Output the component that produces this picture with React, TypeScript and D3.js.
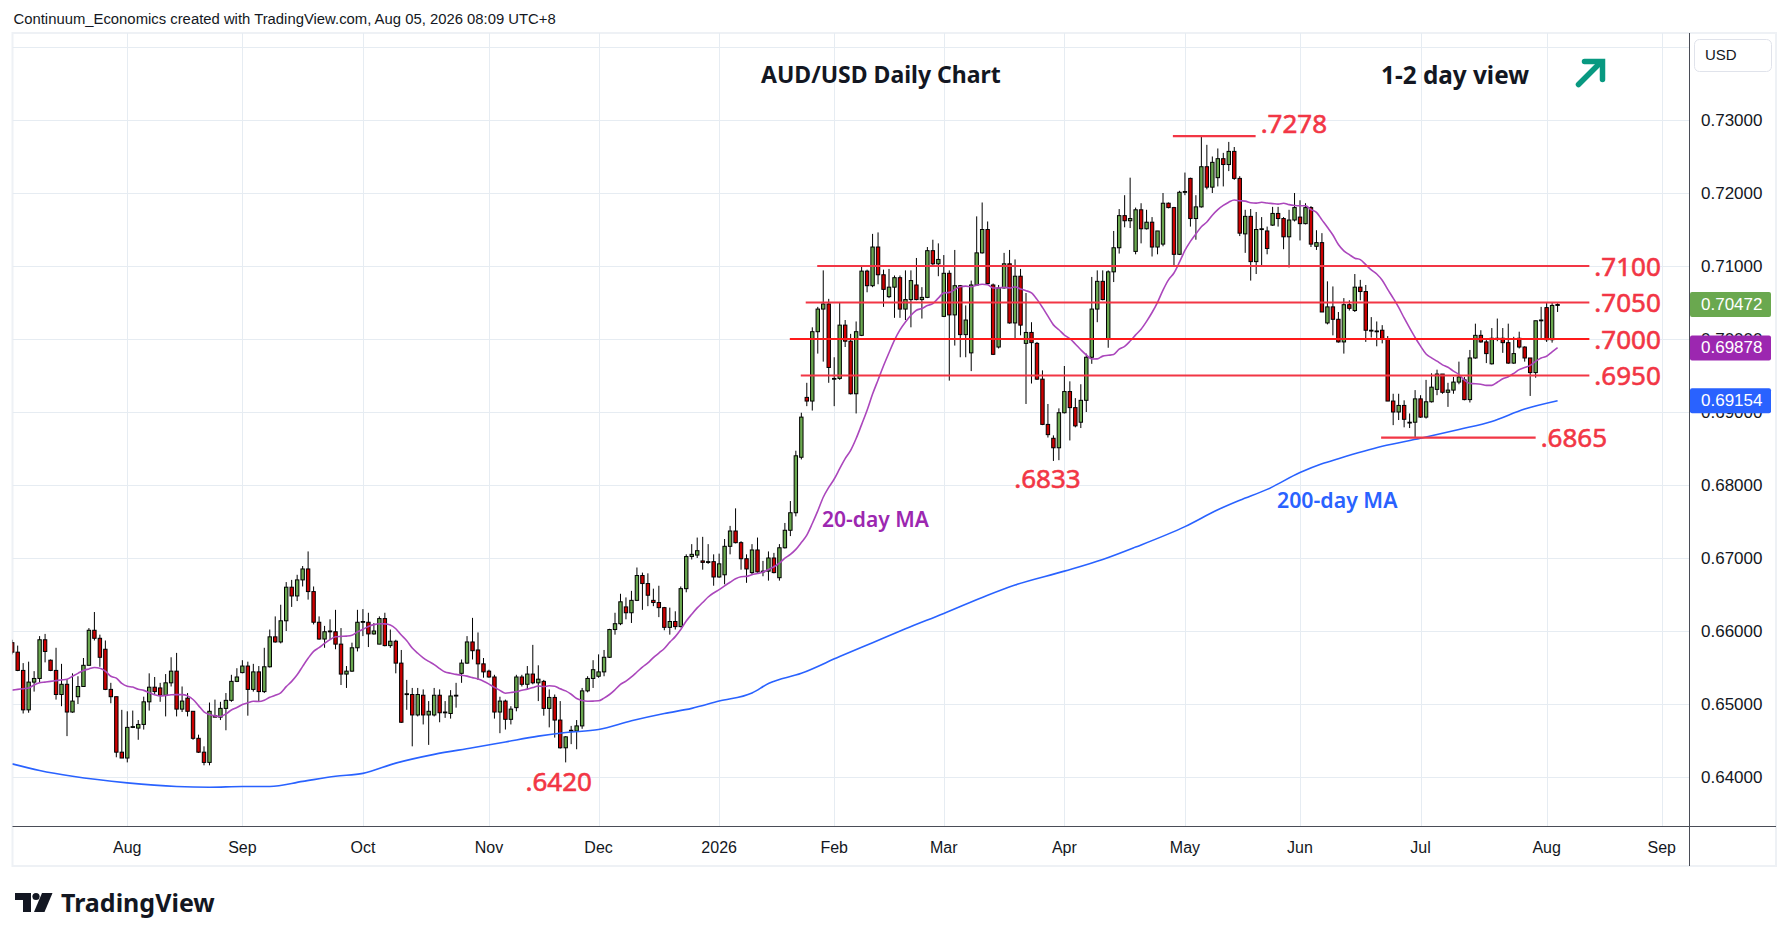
import React from 'react';
import * as d3 from 'd3';

const W = 1789;
const H = 941;

// trading calendar (weekdays, FX closed on these two days)
const firstDay = '2025-07-03';
const lastAxisDay = '2026-09-04';
const holidays = ['2025-12-25', '2026-01-01'];

const opens = [
  0.6584, 0.6571, 0.6546, 0.6492, 0.6530, 0.6535, 0.6588, 0.6560, 0.6546, 0.6513,
  0.6527, 0.6489, 0.6510, 0.6524, 0.6553, 0.6601, 0.6590, 0.6575, 0.6520, 0.6510,
  0.6434, 0.6426, 0.6468, 0.6467, 0.6472, 0.6503, 0.6523, 0.6522, 0.6512, 0.6529,
  0.6545, 0.6493, 0.6508, 0.6490, 0.6453, 0.6434, 0.6420, 0.6484, 0.6482, 0.6494,
  0.6505, 0.6531, 0.6543, 0.6552, 0.6520, 0.6544, 0.6517, 0.6551, 0.6592, 0.6585,
  0.6614, 0.6660, 0.6648, 0.6670, 0.6685, 0.6654, 0.6612, 0.6589, 0.6599, 0.6599,
  0.6582, 0.6541, 0.6545, 0.6577, 0.6612, 0.6612, 0.6596, 0.6582, 0.6617, 0.6580,
  0.6586, 0.6556, 0.6513, 0.6513, 0.6485, 0.6512, 0.6485, 0.6485, 0.6512, 0.6488,
  0.6487, 0.6511, 0.6542, 0.6556, 0.6585, 0.6574, 0.6555, 0.6545, 0.6537, 0.6489,
  0.6504, 0.6479, 0.6495, 0.6537, 0.6527, 0.6541, 0.6529, 0.6531, 0.6494, 0.6509,
  0.6478, 0.6440, 0.6463, 0.6463, 0.6470, 0.6518, 0.6535, 0.6538, 0.6544, 0.6564,
  0.6602, 0.6610, 0.6633, 0.6625, 0.6642, 0.6676, 0.6665, 0.6642, 0.6639, 0.6632,
  0.6605, 0.6613, 0.6606, 0.6658, 0.6702, 0.6704, 0.6696, 0.6694, 0.6695, 0.6674,
  0.6677, 0.6716, 0.6737, 0.6721, 0.6699, 0.6680, 0.6711, 0.6681, 0.6682, 0.6700,
  0.6673, 0.6714, 0.6738, 0.6762, 0.6838, 0.6920, 0.6915, 0.7010, 0.7041, 0.7048,
  0.6945, 0.6946, 0.7019, 0.6997, 0.6925, 0.7005, 0.7093, 0.7073, 0.7126, 0.7088,
  0.7058, 0.7071, 0.7084, 0.7041, 0.7054, 0.7074, 0.7054, 0.7057, 0.7121, 0.7103,
  0.7031, 0.7090, 0.7033, 0.7073, 0.7006, 0.6981, 0.7074, 0.7118, 0.7150, 0.7074,
  0.6989, 0.7070, 0.7103, 0.7022, 0.7086, 0.6994, 0.7009, 0.6994, 0.6945, 0.6883,
  0.6864, 0.6851, 0.6899, 0.6928, 0.6906, 0.6886, 0.6916, 0.6975, 0.7041, 0.7079,
  0.7000, 0.7092, 0.7125, 0.7169, 0.7162, 0.7120, 0.7177, 0.7151, 0.7160, 0.7126,
  0.7130, 0.7186, 0.7180, 0.7116, 0.7201, 0.7220, 0.7165, 0.7181, 0.7236, 0.7208,
  0.7221, 0.7247, 0.7239, 0.7257, 0.7220, 0.7144, 0.7168, 0.7106, 0.7150, 0.7148,
  0.7156, 0.7172, 0.7165, 0.7140, 0.7163, 0.7167, 0.7158, 0.7180, 0.7127, 0.7132,
  0.7022, 0.7044, 0.7027, 0.6996, 0.7047, 0.7039, 0.7071, 0.7065, 0.7012, 0.7011,
  0.7012, 0.7000, 0.6915, 0.6900, 0.6909, 0.6886, 0.6886, 0.6918, 0.6893, 0.6914,
  0.6931, 0.6952, 0.6927, 0.6930, 0.6941, 0.6944, 0.6917, 0.6974, 0.7005, 0.6996,
  0.6966, 0.7001, 0.7001, 0.6995, 0.6967, 0.7001, 0.6989, 0.6974, 0.6954, 0.7025,
  0.7043, 0.6999, 0.7046,
];

const highs = [
  0.6588, 0.6580, 0.6556, 0.6558, 0.6545, 0.6593, 0.6596, 0.6561, 0.6577, 0.6555,
  0.6534, 0.6542, 0.6538, 0.6563, 0.6604, 0.6626, 0.6595, 0.6587, 0.6529, 0.6510,
  0.6492, 0.6490, 0.6491, 0.6478, 0.6510, 0.6542, 0.6537, 0.6529, 0.6541, 0.6564,
  0.6570, 0.6524, 0.6515, 0.6490, 0.6458, 0.6442, 0.6502, 0.6506, 0.6503, 0.6515,
  0.6540, 0.6549, 0.6560, 0.6558, 0.6555, 0.6552, 0.6577, 0.6602, 0.6620, 0.6636,
  0.6667, 0.6670, 0.6677, 0.6689, 0.6709, 0.6661, 0.6620, 0.6607, 0.6616, 0.6629,
  0.6604, 0.6552, 0.6584, 0.6629, 0.6630, 0.6625, 0.6611, 0.6620, 0.6625, 0.6602,
  0.6588, 0.6574, 0.6533, 0.6522, 0.6522, 0.6520, 0.6504, 0.6522, 0.6520, 0.6504,
  0.6519, 0.6529, 0.6561, 0.6593, 0.6618, 0.6598, 0.6563, 0.6547, 0.6540, 0.6510,
  0.6506, 0.6497, 0.6540, 0.6540, 0.6552, 0.6581, 0.6553, 0.6533, 0.6520, 0.6513,
  0.6504, 0.6456, 0.6470, 0.6478, 0.6522, 0.6538, 0.6560, 0.6568, 0.6574, 0.6603,
  0.6625, 0.6651, 0.6646, 0.6655, 0.6687, 0.6680, 0.6679, 0.6658, 0.6662, 0.6633,
  0.6632, 0.6627, 0.6661, 0.6705, 0.6719, 0.6728, 0.6729, 0.6719, 0.6705, 0.6706,
  0.6726, 0.6744, 0.6768, 0.6723, 0.6705, 0.6719, 0.6728, 0.6696, 0.6709, 0.6707,
  0.6719, 0.6748, 0.6778, 0.6847, 0.6899, 0.6940, 0.7016, 0.7044, 0.7094, 0.7055,
  0.6975, 0.7050, 0.7026, 0.7007, 0.7024, 0.7099, 0.7095, 0.7144, 0.7146, 0.7095,
  0.7096, 0.7087, 0.7087, 0.7094, 0.7094, 0.7111, 0.7071, 0.7126, 0.7136, 0.7131,
  0.7115, 0.7094, 0.7122, 0.7074, 0.7046, 0.7080, 0.7168, 0.7187, 0.7161, 0.7076,
  0.7074, 0.7118, 0.7122, 0.7109, 0.7096, 0.7063, 0.7023, 0.6996, 0.6957, 0.6911,
  0.6868, 0.6905, 0.6963, 0.6942, 0.6919, 0.6938, 0.6980, 0.7085, 0.7094, 0.7094,
  0.7094, 0.7148, 0.7178, 0.7197, 0.7221, 0.7180, 0.7186, 0.7177, 0.7167, 0.7148,
  0.7200, 0.7187, 0.7181, 0.7203, 0.7228, 0.7221, 0.7197, 0.7278, 0.7266, 0.7250,
  0.7261, 0.7255, 0.7270, 0.7263, 0.7223, 0.7177, 0.7178, 0.7174, 0.7167, 0.7154,
  0.7181, 0.7181, 0.7167, 0.7177, 0.7200, 0.7190, 0.7186, 0.7182, 0.7149, 0.7145,
  0.7079, 0.7072, 0.7037, 0.7056, 0.7053, 0.7089, 0.7081, 0.7074, 0.7030, 0.7024,
  0.7019, 0.7004, 0.6925, 0.6925, 0.6916, 0.6898, 0.6930, 0.6923, 0.6944, 0.6953,
  0.6958, 0.6952, 0.6940, 0.6948, 0.6969, 0.6948, 0.6985, 0.7021, 0.7012, 0.7001,
  0.7015, 0.7028, 0.7015, 0.7021, 0.7003, 0.7010, 0.6990, 0.6974, 0.7025, 0.7044,
  0.7050, 0.7050, 0.7049,
];

const lows = [
  0.6568, 0.6545, 0.6487, 0.6488, 0.6517, 0.6529, 0.6557, 0.6545, 0.6506, 0.6497,
  0.6456, 0.6488, 0.6500, 0.6524, 0.6553, 0.6587, 0.6551, 0.6519, 0.6501, 0.6427,
  0.6426, 0.6420, 0.6467, 0.6451, 0.6465, 0.6491, 0.6513, 0.6503, 0.6483, 0.6524,
  0.6483, 0.6489, 0.6483, 0.6451, 0.6433, 0.6416, 0.6416, 0.6482, 0.6478, 0.6464,
  0.6503, 0.6530, 0.6542, 0.6484, 0.6517, 0.6504, 0.6515, 0.6550, 0.6584, 0.6583,
  0.6600, 0.6633, 0.6641, 0.6661, 0.6643, 0.6609, 0.6588, 0.6577, 0.6588, 0.6575,
  0.6526, 0.6522, 0.6544, 0.6572, 0.6593, 0.6578, 0.6595, 0.6582, 0.6579, 0.6577,
  0.6542, 0.6474, 0.6492, 0.6442, 0.6483, 0.6472, 0.6444, 0.6483, 0.6475, 0.6481,
  0.6480, 0.6495, 0.6529, 0.6555, 0.6561, 0.6533, 0.6536, 0.6536, 0.6480, 0.6460,
  0.6465, 0.6472, 0.6490, 0.6524, 0.6520, 0.6527, 0.6504, 0.6484, 0.6468, 0.6454,
  0.6439, 0.6420, 0.6445, 0.6438, 0.6466, 0.6516, 0.6522, 0.6536, 0.6538, 0.6563,
  0.6595, 0.6608, 0.6616, 0.6611, 0.6641, 0.6629, 0.6634, 0.6634, 0.6619, 0.6601,
  0.6595, 0.6602, 0.6605, 0.6653, 0.6698, 0.6700, 0.6684, 0.6692, 0.6662, 0.6673,
  0.6664, 0.6705, 0.6720, 0.6684, 0.6666, 0.6677, 0.6680, 0.6675, 0.6669, 0.6679,
  0.6669, 0.6713, 0.6730, 0.6757, 0.6835, 0.6908, 0.6902, 0.6980, 0.6969, 0.6940,
  0.6908, 0.6944, 0.6989, 0.6924, 0.6898, 0.7004, 0.7064, 0.7071, 0.7075, 0.7044,
  0.7056, 0.7029, 0.7029, 0.7026, 0.7016, 0.7053, 0.7028, 0.7056, 0.7101, 0.7086,
  0.7030, 0.6943, 0.6991, 0.6975, 0.6975, 0.6956, 0.7073, 0.7117, 0.7074, 0.6978,
  0.6987, 0.7069, 0.7021, 0.7000, 0.7005, 0.6911, 0.6939, 0.6944, 0.6882, 0.6865,
  0.6833, 0.6834, 0.6898, 0.6861, 0.6879, 0.6878, 0.6900, 0.6966, 0.7023, 0.7053,
  0.6988, 0.7078, 0.7117, 0.7153, 0.7152, 0.7116, 0.7131, 0.7150, 0.7113, 0.7116,
  0.7127, 0.7179, 0.7101, 0.7115, 0.7197, 0.7154, 0.7136, 0.7180, 0.7205, 0.7200,
  0.7209, 0.7209, 0.7230, 0.7218, 0.7141, 0.7118, 0.7080, 0.7089, 0.7101, 0.7116,
  0.7155, 0.7154, 0.7123, 0.7098, 0.7161, 0.7135, 0.7157, 0.7126, 0.7122, 0.7037,
  0.7020, 0.7005, 0.6995, 0.6980, 0.7039, 0.7037, 0.7053, 0.6996, 0.7002, 0.6990,
  0.6994, 0.6915, 0.6882, 0.6889, 0.6879, 0.6878, 0.6865, 0.6892, 0.6891, 0.6913,
  0.6923, 0.6925, 0.6907, 0.6925, 0.6938, 0.6916, 0.6913, 0.6973, 0.6995, 0.6967,
  0.6965, 0.6997, 0.6981, 0.6966, 0.6966, 0.6987, 0.6969, 0.6922, 0.6947, 0.7000,
  0.6996, 0.6995, 0.7037,
];

const closes = [
  0.6571, 0.6546, 0.6492, 0.6530, 0.6535, 0.6588, 0.6572, 0.6546, 0.6513, 0.6527,
  0.6489, 0.6504, 0.6524, 0.6553, 0.6601, 0.6590, 0.6564, 0.6520, 0.6510, 0.6434,
  0.6426, 0.6468, 0.6469, 0.6472, 0.6503, 0.6523, 0.6517, 0.6512, 0.6529, 0.6545,
  0.6493, 0.6504, 0.6490, 0.6453, 0.6434, 0.6420, 0.6490, 0.6482, 0.6494, 0.6505,
  0.6531, 0.6537, 0.6552, 0.6520, 0.6544, 0.6517, 0.6551, 0.6592, 0.6585, 0.6614,
  0.6660, 0.6648, 0.6670, 0.6685, 0.6654, 0.6612, 0.6589, 0.6599, 0.6600, 0.6582,
  0.6541, 0.6545, 0.6577, 0.6612, 0.6613, 0.6596, 0.6600, 0.6617, 0.6580, 0.6586,
  0.6556, 0.6475, 0.6514, 0.6485, 0.6513, 0.6485, 0.6490, 0.6512, 0.6488, 0.6489,
  0.6511, 0.6512, 0.6556, 0.6585, 0.6573, 0.6555, 0.6544, 0.6537, 0.6489, 0.6504,
  0.6479, 0.6493, 0.6537, 0.6527, 0.6541, 0.6529, 0.6534, 0.6494, 0.6509, 0.6478,
  0.6440, 0.6455, 0.6464, 0.6470, 0.6518, 0.6535, 0.6547, 0.6544, 0.6564, 0.6602,
  0.6610, 0.6640, 0.6625, 0.6642, 0.6676, 0.6665, 0.6649, 0.6639, 0.6632, 0.6605,
  0.6613, 0.6606, 0.6658, 0.6702, 0.6705, 0.6710, 0.6694, 0.6695, 0.6674, 0.6692,
  0.6716, 0.6737, 0.6721, 0.6699, 0.6685, 0.6711, 0.6681, 0.6682, 0.6700, 0.6680,
  0.6714, 0.6738, 0.6762, 0.6840, 0.6893, 0.6915, 0.7010, 0.7041, 0.7048, 0.6961,
  0.6946, 0.7019, 0.6997, 0.6925, 0.7010, 0.7093, 0.7073, 0.7126, 0.7088, 0.7068,
  0.7071, 0.7084, 0.7041, 0.7054, 0.7080, 0.7054, 0.7057, 0.7121, 0.7103, 0.7109,
  0.7090, 0.7033, 0.7073, 0.7006, 0.7026, 0.7074, 0.7118, 0.7150, 0.7076, 0.6979,
  0.7070, 0.7103, 0.7022, 0.7086, 0.7019, 0.7009, 0.6995, 0.6945, 0.6883, 0.6869,
  0.6851, 0.6899, 0.6928, 0.6906, 0.6881, 0.6916, 0.6975, 0.7041, 0.7079, 0.7054,
  0.7092, 0.7125, 0.7169, 0.7162, 0.7165, 0.7177, 0.7151, 0.7160, 0.7126, 0.7148,
  0.7186, 0.7180, 0.7116, 0.7201, 0.7202, 0.7165, 0.7181, 0.7236, 0.7208, 0.7242,
  0.7247, 0.7239, 0.7257, 0.7220, 0.7145, 0.7168, 0.7106, 0.7150, 0.7151, 0.7124,
  0.7172, 0.7165, 0.7140, 0.7163, 0.7180, 0.7158, 0.7180, 0.7130, 0.7132, 0.7037,
  0.7044, 0.7027, 0.6996, 0.7047, 0.7042, 0.7071, 0.7065, 0.7012, 0.7011, 0.7010,
  0.7000, 0.6915, 0.6900, 0.6909, 0.6890, 0.6886, 0.6918, 0.6893, 0.6914, 0.6934,
  0.6952, 0.6927, 0.6930, 0.6941, 0.6948, 0.6917, 0.6974, 0.7005, 0.6996, 0.6980,
  0.7001, 0.7000, 0.6995, 0.6967, 0.6980, 0.6989, 0.6974, 0.6954, 0.7025, 0.7026,
  0.6999, 0.7046, 0.70472,
];

// 20-day MA before a full window of visible closes exists
const ma20Lead = [
  0.6519, 0.6520, 0.6521, 0.6522, 0.6526, 0.6529, 0.6530, 0.6531, 0.6532, 0.6533,
  0.6534, 0.6538, 0.6542, 0.6546, 0.6548, 0.6550, 0.6549, 0.6545, 0.6538,
];

// 200-day MA, read at these bar numbers
const ma200Bars = [
  0, 5, 11, 21, 30, 36, 42, 47, 53, 59, 64, 70, 77, 84, 90, 96, 101, 107, 113, 119,
  124, 129, 135, 138, 144, 151, 157, 163, 170, 178, 183, 192, 199, 205, 214, 220,
  224, 229, 235, 239, 242, 250, 257, 264, 270, 276, 282,
];
const ma200Values = [
  0.6418, 0.6409, 0.6401, 0.6392, 0.6387, 0.6386, 0.6387, 0.6387, 0.6394, 0.6401,
  0.6405, 0.6419, 0.6431, 0.6440, 0.6448, 0.6456, 0.6461, 0.6465, 0.6477, 0.6487,
  0.6494, 0.6504, 0.6515, 0.6528, 0.6542, 0.6565, 0.6584, 0.6603, 0.6624, 0.6649,
  0.6663, 0.6682, 0.6698, 0.6715, 0.6743, 0.6766, 0.6779, 0.6794, 0.6817, 0.6829,
  0.6836, 0.6853, 0.6864, 0.6876, 0.6887, 0.6904, 0.69154,
];

const priceTicks = [0.64, 0.65, 0.66, 0.67, 0.68, 0.69, 0.70, 0.71, 0.72, 0.73];
const gridPrices = [0.64, 0.65, 0.66, 0.67, 0.68, 0.69, 0.70, 0.71, 0.72, 0.73, 0.74];

// drawn levels: price, label, bar where line starts / ends
const levelPrices = [0.7278, 0.7100, 0.7050, 0.7000, 0.6950, 0.6865];
const levelLabels = ['.7278', '.7100', '.7050', '.7000', '.6950', '.6865'];
const levelFrom = [211.8, 146.9, 144.8, 141.9, 143.9, 249.8];
const levelTo = [226.9, 287.8, 287.8, 287.8, 287.8, 278.0];

const lastValues = [0.70472, 0.69878, 0.69154];
const lastColors = ['#6aa84f', '#9c27b0', '#2962ff'];

const monthNames = ['Jan', 'Feb', 'Mar', 'Apr', 'May', 'Jun', 'Jul', 'Aug', 'Sep', 'Oct', 'Nov', 'Dec'];

function tradingDays(start, end, skip) {
  const out = [];
  const d = new Date(start + 'T00:00:00Z');
  const e = new Date(end + 'T00:00:00Z');
  while (d <= e) {
    const wd = d.getUTCDay();
    const iso = d.toISOString().slice(0, 10);
    if (wd !== 0 && wd !== 6 && !skip.includes(iso)) out.push(iso);
    d.setUTCDate(d.getUTCDate() + 1);
  }
  return out;
}

const axisFont = '"Liberation Sans", Arial, sans-serif';
const noteFont = '"Noto Sans", "Open Sans", sans-serif';
const RED = '#f23645';

export default function App() {
  const left = 12.5, right = 1689, top = 33, bottom = 826, frameR = 1776, frameB = 866;

  const days = tradingDays(firstDay, lastAxisDay, holidays);
  const n = Math.min(opens.length, highs.length, lows.length, closes.length);

  const x = d3.scaleLinear().domain([0, 306]).range([12.2, 1689.1]);
  const y = d3.scaleLinear().domain([0.64, 0.73]).range([777, 120]);

  const ma20 = closes.slice(0, n).map((c, i) =>
    i < 19 ? ma20Lead[i] : d3.mean(closes.slice(i - 19, i + 1))
  );
  const ma20Path = d3.line().x((_, i) => x(i)).y(v => y(v)).curve(d3.curveMonotoneX)(ma20);
  const ma200Path = d3.line()
    .x(d => x(d[0]))
    .y(d => y(d[1]))
    .curve(d3.curveMonotoneX)(ma200Bars.map((b, i) => [b, ma200Values[i]]));

  const monthTicks = days
    .map((d, i) => ({ d, i }))
    .filter(({ d, i }) => i > 0 && d.slice(0, 7) !== days[i - 1].slice(0, 7));

  const tickLabel = d => {
    const m = +d.slice(5, 7);
    return m === 1 ? d.slice(0, 4) : monthNames[m - 1];
  };

  const bodyW = 3.4;

  return (
    <div style={{ position: 'absolute', left: 0, top: 0 }}>
      <svg width={W} height={H} viewBox={`0 0 ${W} ${H}`} style={{ display: 'block', background: '#fff' }}>
        <defs>
          <clipPath id="plot">
            <rect x={left} y={top} width={right - left} height={bottom - top} />
          </clipPath>
        </defs>

        <text x={13.5} y={23.5} fontFamily={axisFont} fontSize={14.85} fill="#131722">
          Continuum_Economics created with TradingView.com, Aug 05, 2026 08:09 UTC+8
        </text>

        {/* frame */}
        <rect x={left} y={top} width={frameR - left} height={frameB - top} fill="#fff" stroke="#eef1f5" strokeWidth={2} />

        {/* grid */}
        <g clipPath="url(#plot)">
          {gridPrices.map(p => (
            <line key={p} x1={left} x2={right} y1={Math.round(y(p)) + 0.5} y2={Math.round(y(p)) + 0.5} stroke="#e6ecf2" strokeWidth={1} />
          ))}
          {monthTicks.map(({ i }) => (
            <line key={i} x1={Math.round(x(i)) + 0.5} x2={Math.round(x(i)) + 0.5} y1={top} y2={bottom} stroke="#e6ecf2" strokeWidth={1} />
          ))}
        </g>

        {/* candles */}
        <g clipPath="url(#plot)">
          {d3.range(n).map(i => {
            const o = opens[i], c = closes[i];
            const cx = x(i);
            const yt = y(Math.max(o, c));
            const yb = y(Math.min(o, c));
            const hi = Math.max(highs[i], o, c);
            const lo = Math.min(lows[i], o, c);
            return (
              <g key={i}>
                <line x1={cx} x2={cx} y1={y(hi)} y2={y(lo)} stroke="#000" strokeWidth={1} />
                <rect x={cx - bodyW / 2} y={yt} width={bodyW} height={Math.max(yb - yt, 0.8)}
                  fill={c >= o ? '#6aa84f' : '#cc0000'} stroke="#000" strokeWidth={1} />
              </g>
            );
          })}
          <path d={ma20Path} fill="none" stroke="#ab47bc" strokeWidth={1.6} />
          <path d={ma200Path} fill="none" stroke="#2962ff" strokeWidth={1.6} />

          {levelPrices.map((p, k) => (
            <line key={k} x1={x(levelFrom[k])} x2={x(levelTo[k])} y1={y(p)} y2={y(p)}
              stroke={p === 0.7 ? '#ff1a1a' : RED} strokeWidth={2.2} />
          ))}
        </g>

        {/* level labels */}
        <g fontFamily={noteFont} fontSize={26} fill={RED} stroke={RED} strokeWidth={0.6}>
          {levelPrices.map((p, k) => (
            <text key={k} x={x(levelTo[k]) + 5} y={y(p) + (k === 0 ? -3 : 9.5)}>
              {levelLabels[k]}
            </text>
          ))}
          <text x={x(190) - 6} y={y(lows[190]) + 27} textAnchor="middle">.6833</text>
          <text x={x(101) - 7} y={y(lows[101]) + 29} textAnchor="middle">.6420</text>
        </g>

        <text x={822} y={527} fontFamily={noteFont} fontSize={21} fontWeight={600} fill="#9c27b0">20-day MA</text>
        <text x={1277} y={508} fontFamily={noteFont} fontSize={21.3} fontWeight={600} fill="#2962ff">200-day MA</text>

        {/* titles */}
        <text x={761} y={83} fontFamily={noteFont} fontSize={23} fontWeight={700} fill="#131722">AUD/USD Daily Chart</text>
        <text x={1381} y={83.5} fontFamily={noteFont} fontSize={24.3} fontWeight={700} fill="#131722">1-2 day view</text>
        <g stroke="#089981" strokeWidth={5.5} fill="none" strokeLinecap="round" strokeLinejoin="miter">
          <line x1={1578.5} y1={84.5} x2={1600} y2={63} />
          <polyline points="1584.5,61.5 1602.5,61.5 1602.5,79.5" />
        </g>

        {/* axes */}
        <line x1={left} x2={frameR} y1={bottom + 0.5} y2={bottom + 0.5} stroke="#4a4d57" strokeWidth={1} />
        <line x1={right + 0.5} x2={right + 0.5} y1={top} y2={frameB} stroke="#4a4d57" strokeWidth={1} />

        {monthTicks.map(({ d, i }) => (
          <text key={i} x={x(i)} y={853} textAnchor="middle" fontFamily={axisFont} fontSize={16} fill="#131722">
            {tickLabel(d)}
          </text>
        ))}

        {priceTicks.map(p => (
          <text key={p} x={1701} y={y(p)} dominantBaseline="central" fontFamily={axisFont} fontSize={17} fill="#131722">
            {p.toFixed(5)}
          </text>
        ))}

        {lastValues.map((v, k) => (
          <g key={k}>
            <rect x={1690} y={y(v) - 12.5} width={81} height={25} rx={2} fill={lastColors[k]} />
            <text x={1701} y={y(v)} dominantBaseline="central" fontFamily={axisFont} fontSize={17} fill="#fff">
              {v.toFixed(5)}
            </text>
          </g>
        ))}

        <rect x={1694.5} y={39.5} width={77} height={32} rx={5} fill="#fff" stroke="#e0e3eb" strokeWidth={1} />
        <text x={1705} y={60} fontFamily={axisFont} fontSize={15} fill="#131722">USD</text>

        {/* TradingView mark */}
        <g fill="#131722">
          <path d="M15,893 H31 V912 H23 V900 H15 Z" />
          <circle cx={36} cy={896.5} r={3.6} />
          <path d="M42,893 H52.5 L44.5,912 H34 Z" />
        </g>
        <text x={61} y={912} fontFamily={noteFont} fontSize={25} fontWeight={700} fill="#131722">TradingView</text>
      </svg>
    </div>
  );
}
